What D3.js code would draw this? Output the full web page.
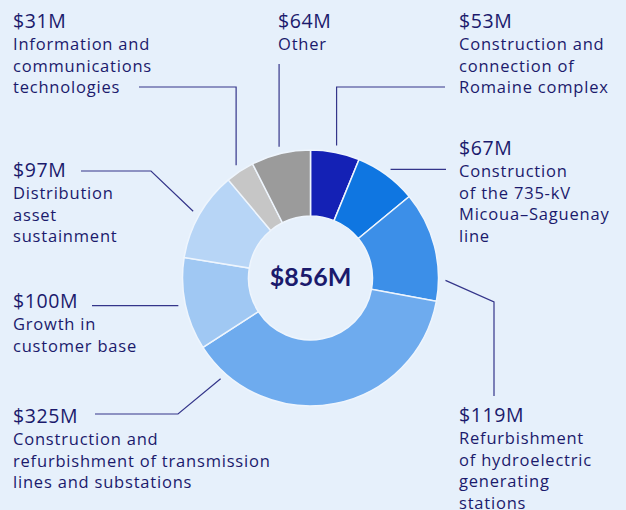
<!DOCTYPE html>
<html>
<head>
<meta charset="utf-8">
<script src="https://cdn.jsdelivr.net/npm/d3@7"></script>
<style>
  html, body { margin: 0; padding: 0; background: #e6f0fb; }
  svg { display: block; font-family: "Open Sans", Lato, sans-serif; }
</style>
</head>
<body>
<svg id="chart" width="626" height="510"></svg>
<script>
(function() {

// data (clockwise from 12 o'clock)
const values = [53, 67, 119, 325, 100, 97, 31, 64];
const valueLabels = ['$53M', '$67M', '$119M', '$325M', '$100M', '$97M', '$31M', '$64M'];
const categories = [
    ['Construction and', 'connection of', 'Romaine complex'],
    ['Construction', 'of the 735-kV', 'Micoua\u2013Saguenay', 'line'],
    ['Refurbishment', 'of hydroelectric', 'generating', 'stations'],
    ['Construction and', 'refurbishment of transmission', 'lines and substations'],
    ['Growth in', 'customer base'],
    ['Distribution', 'asset', 'sustainment'],
    ['Information and', 'communications', 'technologies'],
    ['Other']
];
const totalLabel = '$856M';
const colors = ['#1421b5', '#0f76e1', '#3c8fe8', '#6eabee', '#a0c8f3', '#b7d5f6', '#c6c6c6', '#9b9b9b'];

// layout of the callouts: text position, where on the slice the leader starts,
// and the bends of the leader after that
const labelPos = [[459, 28], [459, 155], [459, 422], [13, 423], [13, 308], [13, 177], [13, 28], [278, 28]];
const anchorAt = [0.5, 0.5, 0.81, 0.887, 0.5, 0.5, 0.5, 0.5];
const leaderBends = [
    [['a', 87], [445, 87]],
    [[446, 'a']],
    [[494, 302], [494, 396]],
    [[178, 414], [95, 414]],
    [[92, 'a']],
    [[151, 171], [81, 171]],
    [['a', 87], [139, 87]],
    [['a', 64]]
];

const cx = 310.5, cy = 278,
      outerR = 128, innerR = 62, leaderR = 135;
const textColor = '#1b1a6c',
      lineColor = '#34358a';

document.addEventListener('DOMContentLoaded', function() {
    var svg = d3.select('#chart');
    drawDonut(svg);
    drawCallouts(svg);
});

function drawDonut(svg) {
    var pie = d3.pie().sort(null).value(function(d) { return d; });
    var arc = d3.arc().innerRadius(innerR).outerRadius(outerR);

    var g = svg.append('g')
        .attr('transform', 'translate(' + cx + ',' + cy + ')');

    g.selectAll('.slice')
        .data(pie(values))
      .enter().append('path')
        .attr('class', 'slice')
        .attr('d', arc)
        .attr('fill', function(d, i) { return colors[i]; })
        .attr('stroke', '#eef5fd')
        .attr('stroke-width', 1.5);

    g.append('text')
        .attr('text-anchor', 'middle')
        .attr('y', 8)
        .attr('fill', textColor)
        .style('font-family', 'Lato, sans-serif')
        .style('font-size', '25px')
        .style('font-weight', 700)
        .text(totalLabel);
}

function drawCallouts(svg) {
    var arcs = d3.pie().sort(null).value(function(d) { return d; })(values);

    var line = d3.line();

    arcs.forEach(function(d, i) {
        var a = d.startAngle + (d.endAngle - d.startAngle) * anchorAt[i];
        var ax = cx + leaderR * Math.sin(a),
            ay = cy - leaderR * Math.cos(a);
        var pts = [[ax, ay]];
        leaderBends[i].forEach(function(p) {
            pts.push([p[0] === 'a' ? ax : p[0], p[1] === 'a' ? ay : p[1]]);
        });
        svg.append('path')
            .attr('d', line(pts))
            .attr('fill', 'none')
            .attr('stroke', lineColor)
            .attr('stroke-width', 1.2);
    });

    var groups = svg.selectAll('.callout')
        .data(values)
      .enter().append('g')
        .attr('class', 'callout')
        .attr('transform', function(d, i) {
            return 'translate(' + labelPos[i][0] + ',' + labelPos[i][1] + ')';
        });

    groups.append('text')
        .attr('fill', textColor)
        .style('font-size', '19.5px')
        .style('font-weight', 500)
        .style('letter-spacing', '0.6px')
        .text(function(d, i) { return valueLabels[i]; });

    groups.each(function(d, i) {
        var t = d3.select(this).append('text')
            .attr('fill', textColor)
            .style('font-size', '16.5px')
            .style('letter-spacing', '0.8px');
        categories[i].forEach(function(s, j) {
            t.append('tspan')
                .attr('x', 0)
                .attr('y', 22 + j * 21.5)
                .text(s);
        });
    });
}

})();
</script>
</body>
</html>
